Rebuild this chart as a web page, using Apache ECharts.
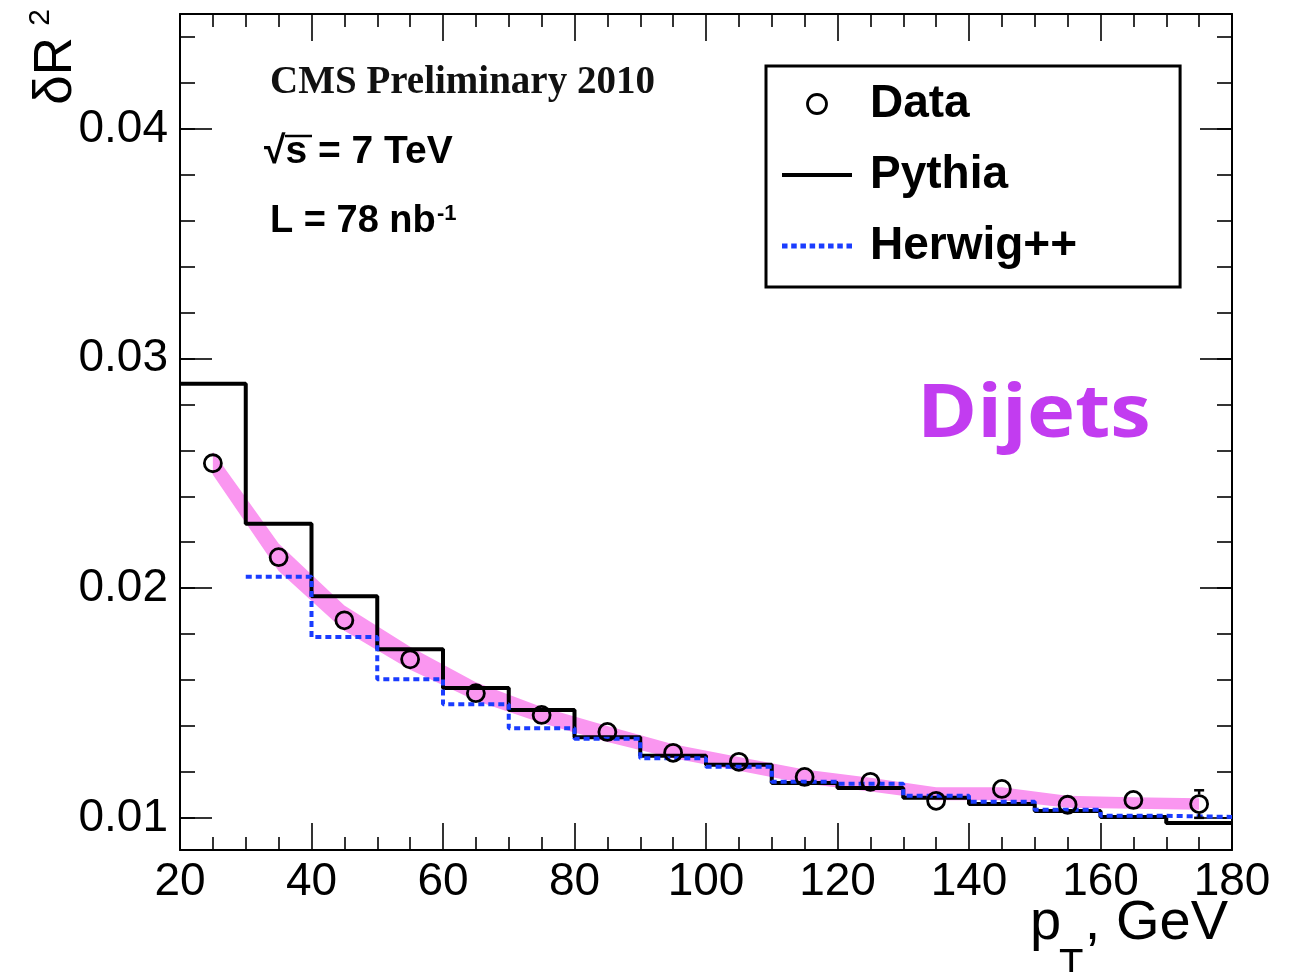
<!DOCTYPE html>
<html>
<head>
<meta charset="utf-8">
<script src="https://cdn.jsdelivr.net/npm/echarts@6/dist/echarts.min.js"></script>
<style>
html,body{margin:0;padding:0;background:#fff;}
#chart{width:1298px;height:972px;}
</style>
</head>
<body>
<div id="chart"></div>
<script>
// ---- data ----
const binLow = [20, 30, 40, 50, 60, 70, 80, 90, 100, 110, 120, 130, 140, 150, 160, 170];
const binHighEdge = 180;
const pythia = [0.0289, 0.0228, 0.01965, 0.01734, 0.01565, 0.0147, 0.01351, 0.0127, 0.01231, 0.01152, 0.0113, 0.01087, 0.0106, 0.0103, 0.01004, 0.00978];
const herwig = [null, 0.0205, 0.01787, 0.01604, 0.01495, 0.0139, 0.01344, 0.0126, 0.01222, 0.01157, 0.01148, 0.01096, 0.0107, 0.01035, 0.01009, 0.01004];
const dataX = [25, 35, 45, 55, 65, 75, 85, 95, 105, 115, 125, 135, 145, 155, 165, 175];
const dataY = [0.02544, 0.02135, 0.0186, 0.0169, 0.01543, 0.01448, 0.01374, 0.01283, 0.01244, 0.01178, 0.01157, 0.01074, 0.01126, 0.01057, 0.01078, 0.0106];
const dataErr = [0.0002, 0.0002, 0.0002, 0.0002, 0.0003, 0.0002, 0.0002, 0.0002, 0.0002, 0.0002, 0.0002, 0.0002, 0.0003, 0.0003, 0.0003, 0.0006];
const bandLow  = [0.02494, 0.02075, 0.01815, 0.01645, 0.0151, 0.01413, 0.0133, 0.0126, 0.01205, 0.0115, 0.01115, 0.01077, 0.01077, 0.01044, 0.0104, 0.01035];
const bandHigh = [0.02594, 0.02195, 0.01925, 0.01745, 0.0159, 0.01483, 0.0140, 0.0132, 0.01265, 0.0121, 0.01175, 0.01133, 0.01133, 0.01096, 0.0109, 0.01085];
const xTicks = [20, 40, 60, 80, 100, 120, 140, 160, 180];
const yMajor = [0.01, 0.02, 0.03, 0.04];
const yMinor = [0.01, 0.012, 0.014, 0.016, 0.018, 0.02, 0.022, 0.024, 0.026, 0.028, 0.03, 0.032, 0.034, 0.036, 0.038, 0.04, 0.042, 0.044];
const yMin = 0.0086, yMax = 0.045;

// ---- build series data ----
const pythiaData = binLow.map((x, i) => [x, pythia[i]]).concat([[binHighEdge, pythia[pythia.length - 1]]]);
const herwigData = [];
binLow.forEach((x, i) => { if (herwig[i] != null) herwigData.push([x, herwig[i]]); });
herwigData.push([binHighEdge, herwig[herwig.length - 1]]);
const scatterData = dataX.map((x, i) => [x, dataY[i]]);
const errData = dataX.map((x, i) => [x, dataY[i], dataErr[i]]);
const bandData = dataX.map((x, i) => [x, bandLow[i], bandHigh[i]]);

const FONT = "'Liberation Sans', Arial, sans-serif";
const chart = echarts.init(document.getElementById('chart'), null, {renderer: 'canvas'});

// legend icons: solid bar and dotted bar
const solidIcon = 'path://M0,0H70V4H0Z';
let dotPath = 'path://';
for (let k = 0; k < 8; k++) { const x0 = k * 9.2; dotPath += 'M' + x0 + ',0H' + (x0 + 5.5) + 'V5H' + x0 + 'Z'; }

function yAxisDef(pos, ticks, len, showLine, showLabel) {
  return {
    type: 'value', position: pos, min: yMin, max: yMax,
    axisLine: {show: showLine, onZero: false, lineStyle: {color: '#000', width: 2}},
    axisTick: {show: true, inside: true, length: len, customValues: ticks, lineStyle: {color: '#000', width: 1.6}},
    axisLabel: {show: showLabel, customValues: yMajor, fontSize: 46, color: '#000', fontFamily: FONT, margin: 12,
      formatter: v => v.toFixed(2)},
    splitLine: {show: false}
  };
}
function xAxisDef(pos, showLabel) {
  return {
    type: 'value', position: pos, min: 20, max: 180, interval: 20,
    axisLine: {show: true, onZero: false, lineStyle: {color: '#000', width: 2}},
    axisTick: {show: true, inside: true, length: 27, lineStyle: {color: '#000', width: 1.6}},
    minorTick: {show: true, splitNumber: 4, length: 13, lineStyle: {color: '#000', width: 1.6}},
    axisLabel: {show: showLabel, fontSize: 46, color: '#000', fontFamily: FONT, margin: 9},
    splitLine: {show: false}, minorSplitLine: {show: false}
  };
}

const option = {
  animation: false,
  backgroundColor: '#fff',
  grid: {left: 180, right: 66, top: 14, bottom: 122, containLabel: false},
  xAxis: [xAxisDef('bottom', true), xAxisDef('top', false)],
  yAxis: [
    yAxisDef('left', yMajor, 32, true, true),
    yAxisDef('left', yMinor, 15, false, false),
    yAxisDef('right', yMajor, 32, true, false),
    yAxisDef('right', yMinor, 15, false, false)
  ],
  legend: {
    orient: 'vertical', left: 766, top: 66,
    padding: [13, 103, 16, 16],
    borderColor: '#000', borderWidth: 3, borderRadius: 0,
    itemWidth: 70, itemHeight: 19, itemGap: 21,
    selectedMode: false,
    textStyle: {fontSize: 46, fontWeight: 'bold', fontFamily: FONT, color: '#000', lineHeight: 50,
      rich: {g: {width: 13}}},
    formatter: name => '{g| }' + name,
    data: [
      {name: 'Data', icon: 'circle', itemStyle: {color: 'rgba(0,0,0,0)', borderColor: '#000', borderWidth: 2.8, opacity: 1}},
      {name: 'Pythia', icon: solidIcon, itemStyle: {color: '#000', borderWidth: 0, opacity: 1}},
      {name: 'Herwig++', icon: dotPath, itemStyle: {color: '#1a3cff', borderWidth: 0, opacity: 1}}
    ]
  },
  series: [
    {
      name: 'band', type: 'custom', xAxisIndex: 0, yAxisIndex: 0, z: 1, silent: true,
      data: bandData,
      renderItem: function (params, api) {
        if (params.dataIndex !== 0) return null;
        const pts = [];
        for (let i = 0; i < bandData.length; i++) pts.push(api.coord([bandData[i][0], bandData[i][2]]));
        for (let i = bandData.length - 1; i >= 0; i--) pts.push(api.coord([bandData[i][0], bandData[i][1]]));
        return {type: 'polygon', shape: {points: pts}, style: {fill: '#fa96f0', stroke: null}};
      }
    },
    {
      name: 'Pythia', type: 'line', step: 'end', data: pythiaData, z: 3,
      symbol: 'none', lineStyle: {color: '#000', width: 4}, itemStyle: {color: '#000'}
    },
    {
      name: 'Herwig++', type: 'line', step: 'end', data: herwigData, z: 4,
      symbol: 'none', lineStyle: {color: '#1a3cff', width: 4, type: [6, 4]}, itemStyle: {color: '#1a3cff'}
    },
    {
      name: 'Data', type: 'scatter', data: scatterData, z: 6,
      symbol: 'circle', symbolSize: 17,
      itemStyle: {color: 'rgba(0,0,0,0)', borderColor: '#000', borderWidth: 2.8, opacity: 1},
      emphasis: {disabled: true}
    },
    {
      name: 'err', type: 'custom', data: errData, z: 6, silent: true,
      renderItem: function (params, api) {
        const x = api.value(0), y = api.value(1), e = api.value(2);
        const c = api.coord([x, y]);
        const t = api.coord([x, y + e]);
        const b = api.coord([x, y - e]);
        const r = 9.5, cap = 5;
        const ch = [];
        const st = {stroke: '#000', lineWidth: 2.5};
        if (c[1] - t[1] > r) {
          ch.push({type: 'line', shape: {x1: c[0], y1: c[1] - r, x2: t[0], y2: t[1]}, style: st});
          ch.push({type: 'line', shape: {x1: t[0] - cap, y1: t[1], x2: t[0] + cap, y2: t[1]}, style: st});
        }
        if (b[1] - c[1] > r) {
          ch.push({type: 'line', shape: {x1: c[0], y1: c[1] + r, x2: b[0], y2: b[1]}, style: st});
          ch.push({type: 'line', shape: {x1: b[0] - cap, y1: b[1], x2: b[0] + cap, y2: b[1]}, style: st});
        }
        return {type: 'group', children: ch};
      }
    }
  ],
  graphic: [
    {type: 'text', x: 270, y: 83, style: {text: 'CMS Preliminary 2010', font: "bold 39px 'Liberation Serif', 'Times New Roman', serif", fill: '#111', verticalAlign: 'middle', align: 'left'}},
    {type: 'text', x: 264, y: 152, style: {text: '√s = 7 TeV', font: "bold 39px " + FONT, fill: '#000', verticalAlign: 'middle', align: 'left'}},
    {type: 'line', shape: {x1: 285, y1: 136, x2: 312, y2: 136}, style: {stroke: '#000', lineWidth: 2.5}},
    {type: 'text', x: 270, y: 222, style: {text: 'L = 78 nb', font: "bold 38px " + FONT, fill: '#000', verticalAlign: 'middle', align: 'left'}},
    {type: 'text', x: 437, y: 203, style: {text: '-1', font: "bold 22px " + FONT, fill: '#000', verticalAlign: 'top', align: 'left'}},
    {type: 'text', x: 917, y: 416, scaleX: 1.1, style: {text: 'Dijets', font: "bold 74px 'Open Sans', Lato, sans-serif", fill: '#c23cf0', verticalAlign: 'middle', align: 'left'}},
    {type: 'text', x: 56, y: 37, rotation: Math.PI / 2, style: {text: 'δR', font: "53px " + FONT, fill: '#000', verticalAlign: 'middle', align: 'right'}},
    {type: 'text', x: 41, y: 9, rotation: Math.PI / 2, style: {text: '2', font: "30px " + FONT, fill: '#000', verticalAlign: 'middle', align: 'right'}},
    {type: 'text', x: 1030, y: 924, style: {text: 'p', font: "56px " + FONT, fill: '#000', verticalAlign: 'middle', align: 'left'}},
    {type: 'text', x: 1059, y: 966, style: {text: 'T', font: "40px " + FONT, fill: '#000', verticalAlign: 'middle', align: 'left'}},
    {type: 'text', x: 1228, y: 924, style: {text: ', GeV', font: "56px " + FONT, fill: '#000', verticalAlign: 'middle', align: 'right'}}
  ]
};
chart.setOption(option);
</script>
</body>
</html>
